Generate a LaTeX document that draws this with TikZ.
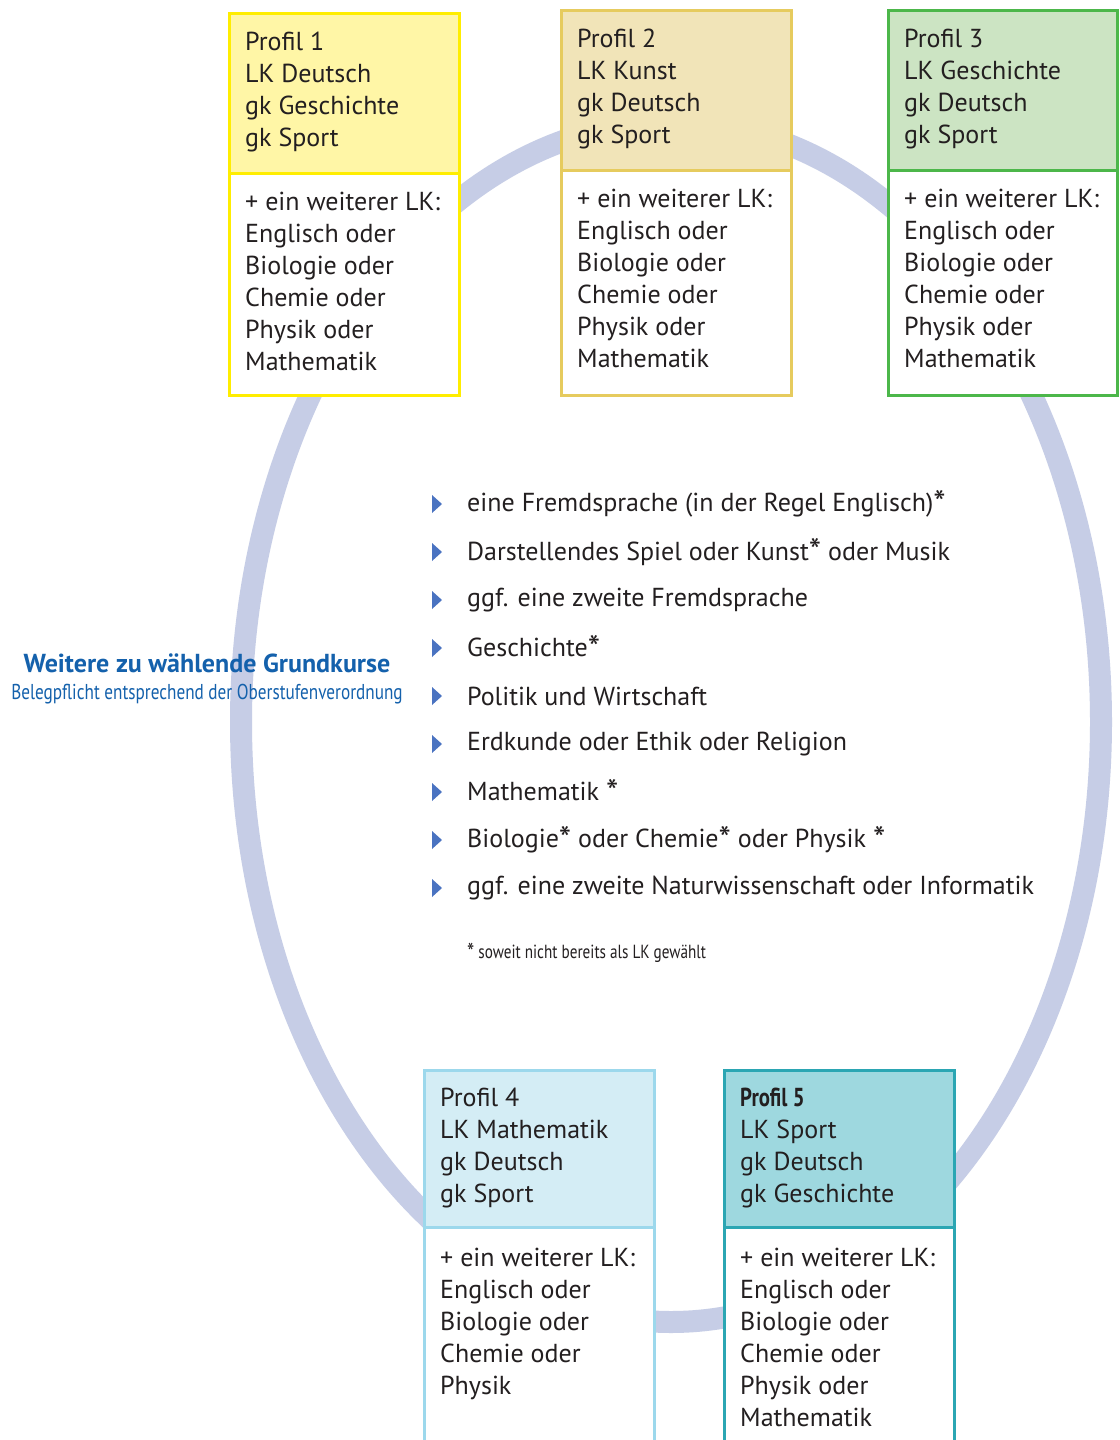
\documentclass[tikz,border=0pt]{standalone}
\usepackage{fontspec}
\usepackage{graphicx}
\setmainfont{PT Sans}
\newfontfamily\condfont{PT Sans}[FakeStretch=0.8]
\usetikzlibrary{positioning}
\definecolor{ring}{HTML}{C6CDE6}
\definecolor{pa}{HTML}{FFED00}\definecolor{pafill}{HTML}{FFF6A6}
\definecolor{pb}{HTML}{E6CB5E}\definecolor{pbfill}{HTML}{F1E4B8}
\definecolor{pc}{HTML}{4CB74A}\definecolor{pcfill}{HTML}{CCE4C3}
\definecolor{pd}{HTML}{9CD8EC}\definecolor{pdfill}{HTML}{D4EDF5}
\definecolor{pe}{HTML}{2BA6B3}\definecolor{pefill}{HTML}{9ED8DF}
\definecolor{titleblue}{HTML}{1461AC}
\definecolor{bulletblue}{HTML}{4A73C1}
\definecolor{ink}{HTML}{231F20}
\newcommand{\lowstar}{\raisebox{-0.14em}{\scalebox{1.35}{*}}}
\tikzset{
  boxtext/.style={anchor=base west, inner sep=0pt, align=left, text=ink,
    font=\fontsize{26}{32}\selectfont},
  itemtext/.style={anchor=west, inner sep=0pt, text=ink,
    font=\fontsize{26}{32}\selectfont},
  bulletmark/.style={fill=bulletblue, draw=none},
  frame/.style={line width=3pt, line join=miter},
}
\begin{document}
\begin{tikzpicture}[x=1pt,y=-1pt]
\clip (0,0) rectangle (1119,1440);
\fill[white] (0,0) rectangle (1119,1440);
% ring
\draw[ring, line width=22pt] (671,722) ellipse [x radius=430, y radius=600];

% Profil 1 (node anchor = baseline of last line)
\filldraw[frame, draw=pa, fill=pafill] (229,13) rectangle (459,173);
\filldraw[frame, draw=pa, fill=white] (229,173) rectangle (459,395);
\node[boxtext] (p1a) at (245,146) {Profil 1\\LK Deutsch\\gk Geschichte\\gk Sport};
\node[boxtext] (p1b) at (245,370) {+ ein weiterer LK:\\Englisch oder\\Biologie oder\\Chemie oder\\Physik oder\\Mathematik};
% Profil 2
\filldraw[frame, draw=pb, fill=pbfill] (561,10) rectangle (791,170);
\filldraw[frame, draw=pb, fill=white] (561,170) rectangle (791,395);
\node[boxtext] (p2a) at (577,143) {Profil 2\\LK Kunst\\gk Deutsch\\gk Sport};
\node[boxtext] (p2b) at (577,367) {+ ein weiterer LK:\\Englisch oder\\Biologie oder\\Chemie oder\\Physik oder\\Mathematik};
% Profil 3
\filldraw[frame, draw=pc, fill=pcfill] (888,10) rectangle (1117,170);
\filldraw[frame, draw=pc, fill=white] (888,170) rectangle (1117,395);
\node[boxtext] (p3a) at (904,143) {Profil 3\\LK Geschichte\\gk Deutsch\\gk Sport};
\node[boxtext] (p3b) at (904,367) {+ ein weiterer LK:\\Englisch oder\\Biologie oder\\Chemie oder\\Physik oder\\Mathematik};
% Profil 4
\filldraw[frame, draw=pd, fill=pdfill] (424,1070) rectangle (654,1227);
\filldraw[frame, draw=pd, fill=white] (424,1227) rectangle (654,1460);
\node[boxtext] (p4a) at (440,1202) {Profil 4\\LK Mathematik\\gk Deutsch\\gk Sport};
\node[boxtext] (p4b) at (440,1394) {+ ein weiterer LK:\\Englisch oder\\Biologie oder\\Chemie oder\\Physik};
% Profil 5
\filldraw[frame, draw=pe, fill=pefill] (724,1070) rectangle (954,1227);
\filldraw[frame, draw=pe, fill=white] (724,1227) rectangle (954,1460);
\node[boxtext] (p5a) at (740,1202) {{\condfont\bfseries Profil 5}\\LK Sport\\gk Deutsch\\gk Geschichte};
\node[boxtext] (p5b) at (740,1426) {+ ein weiterer LK:\\Englisch oder\\Biologie oder\\Chemie oder\\Physik oder\\Mathematik};

% Grundkurse title
\node[anchor=center, inner sep=0pt, text=titleblue, font=\fontsize{26}{30}\selectfont\bfseries] (gkt) at (207,663) {Weitere zu wählende Grundkurse};
\node[anchor=center, inner sep=0pt, text=titleblue, font=\condfont\fontsize{21.5}{25}\selectfont] (gks) at (207,694) {Belegpflicht entsprechend der Oberstufenverordnung};

% list
\foreach \t [count=\i from 0] in {
  eine Fremdsprache (in der Regel Englisch)\lowstar,
  Darstellendes Spiel oder Kunst\lowstar{} oder Musik,
  ggf. eine zweite Fremdsprache,
  Geschichte\lowstar,
  Politik und Wirtschaft,
  Erdkunde oder Ethik oder Religion,
  Mathematik \lowstar,
  Biologie\lowstar{} oder Chemie\lowstar{} oder Physik \lowstar,
  ggf. eine zweite Naturwissenschaft oder Informatik}{
  \node[itemtext] (item\i) at (467,{504+48*\i}) {\t};
  \fill[bulletmark] ([xshift=-35pt,yshift=9pt]item\i.west) -- ([xshift=-25pt]item\i.west) -- ([xshift=-35pt,yshift=-9pt]item\i.west) -- cycle;
}
\node[anchor=west, inner sep=0pt, text=ink, font=\condfont\fontsize{19}{22}\selectfont] (note) at (467,953) {\lowstar{} soweit nicht bereits als LK gewählt};
\end{tikzpicture}
\end{document}
